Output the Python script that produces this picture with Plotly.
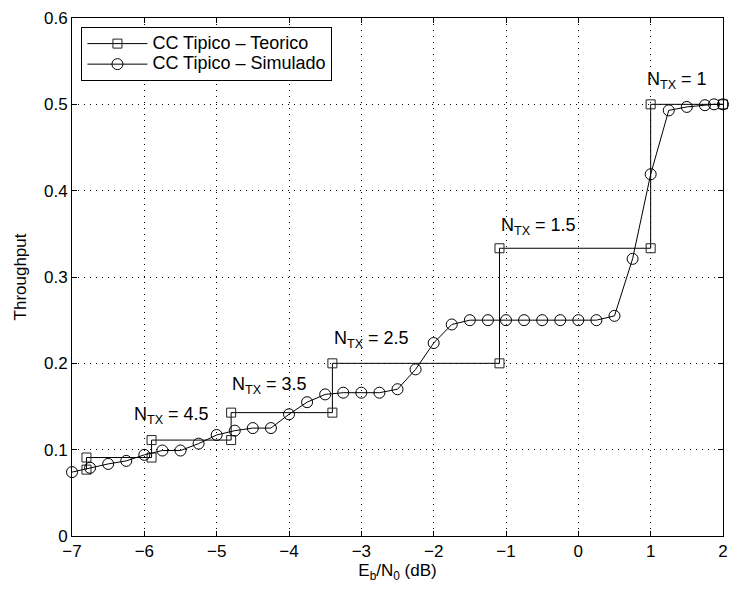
import plotly.graph_objects as go

# ---- data ----
theo_x = [-6.8, -6.8, -5.9, -5.9, -4.8, -4.8, -3.4, -3.4, -1.09, -1.09, 1.0, 1.0, 2.0]
theo_y = [0.0769, 0.0909, 0.0909, 0.1111, 0.1111, 0.1429, 0.1429, 0.2, 0.2, 0.3333, 0.3333, 0.5, 0.5]

sim_x = [-7.0, -6.75, -6.5, -6.25, -6.0, -5.75, -5.5, -5.25, -5.0, -4.75, -4.5, -4.25,
         -4.0, -3.75, -3.5, -3.25, -3.0, -2.75, -2.5, -2.25, -2.0, -1.75, -1.5, -1.25,
         -1.0, -0.75, -0.5, -0.25, 0.0, 0.25, 0.5, 0.75, 1.0, 1.25, 1.5, 1.75, 1.875, 2.0]
sim_y = [0.074, 0.079, 0.0835, 0.087, 0.094, 0.099, 0.099, 0.107, 0.117, 0.122, 0.125, 0.125,
         0.141, 0.155, 0.164, 0.166, 0.166, 0.166, 0.170, 0.193, 0.2235, 0.245, 0.25, 0.25,
         0.25, 0.25, 0.25, 0.25, 0.25, 0.25, 0.255, 0.321, 0.419, 0.493, 0.497, 0.499, 0.5, 0.5]

series_names = ["CC Tipico \u2013 Teorico", "CC Tipico \u2013 Simulado"]

ntx_labels = ["4.5", "3.5", "2.5", "1.5", "1"]
label_x = [-6.17, -4.82, -3.41, -1.09, 0.92]
label_y = [0.140, 0.174, 0.228, 0.359, 0.528]

x_ticks = [-7, -6, -5, -4, -3, -2, -1, 0, 1, 2]
y_ticks = [0, 0.1, 0.2, 0.3, 0.4, 0.5, 0.6]

FONT = "Liberation Sans, Arial, Helvetica, sans-serif"


def legend_label(s):
    return '<span style="font-size:18px">' + s + '</span>'


fig = go.Figure()
fig.add_trace(go.Scatter(
    x=theo_x, y=theo_y, mode="lines+markers", name=legend_label(series_names[0]),
    line=dict(color="black", width=1),
    marker=dict(symbol="square-open", size=9, color="#222", line=dict(width=1)),
    cliponaxis=False))
fig.add_trace(go.Scatter(
    x=sim_x, y=sim_y, mode="lines+markers", name=legend_label(series_names[1]),
    line=dict(color="black", width=1),
    marker=dict(symbol="circle-open", size=11, color="black", line=dict(width=1)),
    cliponaxis=False))

for lab, lx, ly in zip(ntx_labels, label_x, label_y):
    fig.add_annotation(x=lx, y=ly, xref="x", yref="y", text="N<sub>TX</sub> = " + lab,
                       showarrow=False, xanchor="left", yanchor="middle",
                       font=dict(family=FONT, size=18, color="black"))

axis_common = dict(
    ticks="inside", ticklen=5, tickcolor="black", tickwidth=1,
    showline=True, linecolor="black", linewidth=1, mirror="ticks",
    showgrid=True, gridcolor="black", gridwidth=1, griddash="1px,5px",
    zeroline=False, tickfont=dict(family=FONT, size=17, color="black"),
)

fig.update_layout(
    width=733, height=589,
    margin=dict(l=72, r=5, t=18, b=53),
    paper_bgcolor="white", plot_bgcolor="white",
    font=dict(family=FONT, size=17, color="black"),
    showlegend=True,
    legend=dict(x=0.0145, y=0.982, xanchor="left", yanchor="top",
                bgcolor="white", bordercolor="black", borderwidth=1,
                font=dict(family=FONT, size=13.5, color="black"),
                itemwidth=60, tracegroupgap=0),
    xaxis=dict(range=[-7, 2], tickvals=x_ticks,
               title=dict(text="E<sub>b</sub>/N<sub>0</sub> (dB)", standoff=2,
                          font=dict(family=FONT, size=17)),
               **axis_common),
    yaxis=dict(range=[0, 0.6], tickvals=y_ticks,
               title=dict(text="Throughput", standoff=13, font=dict(family=FONT, size=17)),
               **axis_common),
)

fig.write_html("out.html", config={"displayModeBar": False},
               post_script="document.body.style.margin='0';document.body.style.overflow='hidden';")
